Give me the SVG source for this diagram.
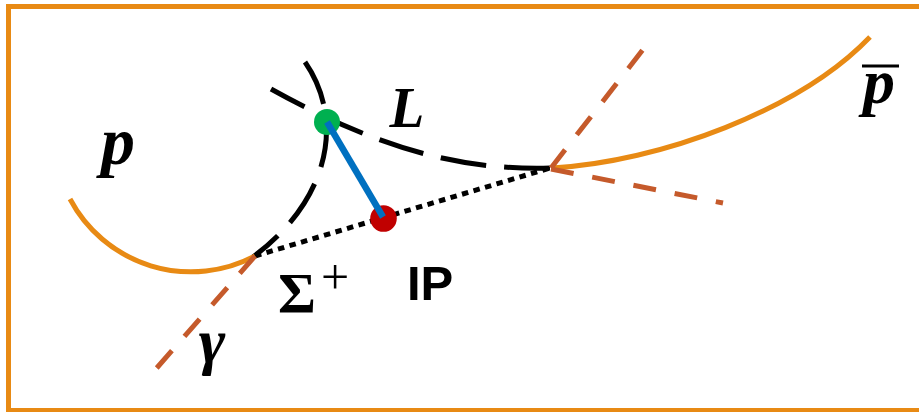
<svg xmlns="http://www.w3.org/2000/svg" width="919" height="412" viewBox="0 0 919 412">
  <style>
    .frame { fill: #FFFFFF; stroke: #E88A14; stroke-width: 5; }
    .track { fill: none; stroke: #E88A14; stroke-width: 5; stroke-linecap: butt; }
    .photon { fill: none; stroke: #C55A2B; stroke-width: 5; stroke-dasharray: 23 19; }
    .neutral { fill: none; stroke: #000000; stroke-width: 5; stroke-dasharray: 46 18; }
    .dotted { fill: none; stroke: #000000; stroke-width: 5; stroke-dasharray: 6.5 5.5; }
    .blue { stroke: #0070C0; stroke-width: 6.5; }
    .math { font-family: "Liberation Serif", "DejaVu Serif", serif; font-weight: bold; font-style: italic; fill: #000000; }
    .upright { font-family: "Liberation Serif", "DejaVu Serif", serif; font-weight: bold; fill: #000000; }
    .sans { font-family: "Liberation Sans", Arial, sans-serif; font-weight: bold; fill: #000000; }
  </style>
  <rect class="frame" x="8.5" y="6.5" width="918" height="404"/>
  <g id="connectors">
    <path id="dotted-line" class="dotted" d="M255,256 L550,168"/>
    <path id="arc" class="neutral" d="M305,62 C345,120 330,200 253,257"/>
    <path id="lambda-track" class="neutral" d="M550,168 C470,170 390,155 271,89"/>
    <path id="p-track" class="track" d="M70,199 A137,137 0 0 0 255,256"/>
    <path id="pbar-track" class="track" d="M552,168 C660,162 800,110 870,37"/>
    <path id="gamma-line" class="photon" d="M255,256 L155,370"/>
    <path id="photon-up" class="photon" d="M551,168 L645,47"/>
    <path id="photon-right" class="photon" d="M551,169 L723,203"/>
  </g>
  <g id="decay-vertex">
    <circle cx="327" cy="122" r="13" fill="#00B050"/>
  </g>
  <g id="ip-point">
    <circle cx="383.5" cy="218.5" r="13.3" fill="#C00000"/>
  </g>
  <g id="connector-link">
    <line id="blue-link" class="blue" x1="327" y1="122" x2="383" y2="217"/>
  </g>
  <g id="label-p">
    <text class="math" x="118" y="164" font-size="68" text-anchor="middle">p</text>
  </g>
  <g id="label-L">
    <text class="math" x="407" y="127" font-size="57" text-anchor="middle">L</text>
  </g>
  <g id="label-pbar">
    <line x1="862" y1="66" x2="899" y2="66" stroke="#000000" stroke-width="3"/>
    <text class="math" x="879" y="103" font-size="64" text-anchor="middle">p</text>
  </g>
  <g id="label-sigma">
    <text class="upright" x="297" y="313" font-size="58" text-anchor="middle">Σ</text>
    <text x="335" y="294" font-size="50" text-anchor="middle" font-family="Liberation Serif, serif" fill="#000000">+</text>
  </g>
  <g id="label-IP">
    <text class="sans" x="407" y="300" font-size="49">IP</text>
  </g>
  <g id="label-gamma">
    <text class="math" x="212" y="362" font-size="64" text-anchor="middle">γ</text>
  </g>
</svg>
